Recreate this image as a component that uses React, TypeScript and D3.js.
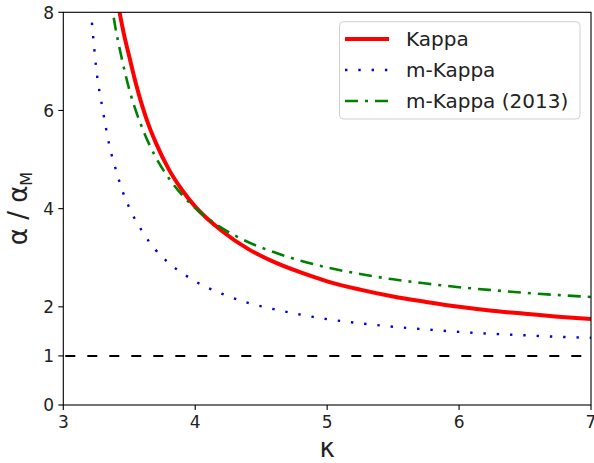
import React from "react";
import * as d3 from "d3";

// Kappa (solid red)
const kappaK = [3.40, 3.427, 3.46, 3.5, 3.55, 3.6, 3.65, 3.7, 3.8, 3.9, 4.0, 4.2, 4.4, 4.6, 4.8, 5.0, 5.25, 5.5, 5.75, 6.0, 6.25, 6.5, 6.75, 7.0];
const kappaV = [8.5, 8.0, 7.55, 7.1, 6.55, 6.08, 5.68, 5.35, 4.8, 4.38, 4.04, 3.55, 3.18, 2.91, 2.70, 2.52, 2.35, 2.21, 2.10, 2.0, 1.92, 1.86, 1.80, 1.75];

// m-Kappa (blue dotted)
const mKappaK = [3.19, 3.21, 3.23, 3.25, 3.3, 3.35, 3.4, 3.45, 3.5, 3.6, 3.7, 3.8, 3.9, 4.0, 4.2, 4.4, 4.6, 4.8, 5.0, 5.25, 5.5, 5.75, 6.0, 6.25, 6.5, 6.75, 7.0];
const mKappaV = [8.6, 8.0, 7.4, 6.85, 6.0, 5.28, 4.78, 4.35, 4.02, 3.53, 3.16, 2.89, 2.69, 2.52, 2.27, 2.08, 1.95, 1.84, 1.75, 1.665, 1.595, 1.54, 1.49, 1.45, 1.42, 1.39, 1.37];

// m-Kappa (2013) (green dash-dot)
const mKappa13K = [3.35, 3.376, 3.45, 3.5, 3.6, 3.7, 3.8, 3.9, 4.0, 4.2, 4.4, 4.6, 4.8, 5.0, 5.25, 5.5, 5.75, 6.0, 6.25, 6.5, 6.75, 7.0];
const mKappa13V = [8.5, 8.0, 6.98, 6.43, 5.63, 5.05, 4.62, 4.28, 4.01, 3.61, 3.32, 3.11, 2.94, 2.80, 2.67, 2.56, 2.475, 2.40, 2.34, 2.285, 2.24, 2.20];

const xTicks = [3, 4, 5, 6, 7];
const yTicks = [0, 1, 2, 4, 6, 8];
const refLevel = [1];
const legendLabels = ["Kappa", "m-Kappa", "m-Kappa (2013)"];

const W = 594;
const H = 463;
const FONT = "DejaVu Sans";

export default function App() {
  const x = d3.scaleLinear().domain([3, 7]).range([63.3, 591]);
  const y = d3.scaleLinear().domain([0, 8]).range([405, 12.3]);

  const line = d3
    .line<[number, number]>()
    .x((d) => x(d[0]))
    .y((d) => y(d[1]))
    .curve(d3.curveMonotoneX);

  const toPts = (ks: number[], vs: number[]) => ks.map((k, i) => [k, vs[i]] as [number, number]);

  const series = [
    { pts: toPts(kappaK, kappaV), color: "#ff0000", width: 4, dash: undefined as string | undefined, cap: "butt" },
    { pts: toPts(mKappaK, mKappaV), color: "#0000dd", width: 2.4, dash: "2.4 10.9", cap: "butt" },
    { pts: toPts(mKappa13K, mKappa13V), color: "#008000", width: 2.6, dash: "13 7 3 7", cap: "butt" },
  ];

  const [x0, x1] = x.range();
  const [yb, yt] = y.range();

  const legendRows = [39, 70, 101];

  return (
    <svg width={W} height={H} style={{ position: "absolute", left: 0, top: 0, background: "#fff" }} fontFamily={FONT}>
      <defs>
        <clipPath id="plotclip">
          <rect x={x0} y={yt} width={x1 - x0} height={yb - yt} />
        </clipPath>
      </defs>
      <rect x={0} y={0} width={W} height={H} fill="#fff" />

      {/* reference line */}
      {refLevel.map((v) => (
        <line key={v} x1={x0} x2={x1} y1={y(v)} y2={y(v)} stroke="#000" strokeWidth={2} strokeDasharray="10 12" strokeDashoffset={-2} />
      ))}

      <g clipPath="url(#plotclip)">
        {series.map((s, i) => (
          <path
            key={i}
            d={line(s.pts) || ""}
            fill="none"
            stroke={s.color}
            strokeWidth={s.width}
            strokeDasharray={s.dash}
            strokeLinecap={s.cap as any}
          />
        ))}
      </g>

      {/* frame */}
      <rect x={x0} y={yt} width={x1 - x0} height={yb - yt} fill="none" stroke="#000" strokeWidth={1.1} />

      {/* x ticks */}
      {xTicks.map((t) => (
        <g key={t}>
          <line x1={x(t)} x2={x(t)} y1={yb} y2={yb + 5} stroke="#000" strokeWidth={1.1} />
          <text x={x(t)} y={427.5} textAnchor="middle" fontSize={17} fill="#222">
            {t}
          </text>
        </g>
      ))}

      {/* y ticks */}
      {yTicks.map((t) => (
        <g key={t}>
          <line x1={x0 - 5} x2={x0} y1={y(t)} y2={y(t)} stroke="#000" strokeWidth={1.1} />
          <text x={54} y={y(t) + 6.3} textAnchor="end" fontSize={17} fill="#222">
            {t}
          </text>
        </g>
      ))}

      {/* axis labels */}
      <text x={(x0 + x1) / 2} y={456.5} textAnchor="middle" fontSize={26} fill="#222">
        κ
      </text>
      <text transform={`translate(27,208.5) rotate(-90)`} textAnchor="middle" fontSize={26} fill="#222">
        α / α
        <tspan fontSize={16} dy={5}>
          M
        </tspan>
      </text>

      {/* legend */}
      <rect x={339.5} y={21.7} width={240.5} height={97.3} rx={4} fill="#fff" fillOpacity={0.8} stroke="#d0d0d0" strokeWidth={1} />
      {series.map((s, i) => (
        <g key={i}>
          <line
            x1={345}
            x2={389}
            y1={legendRows[i]}
            y2={legendRows[i]}
            stroke={s.color}
            strokeWidth={s.width}
            strokeDasharray={s.dash}
          />
          <text x={406} y={legendRows[i] + 7} fontSize={20} fill="#222">
            {legendLabels[i]}
          </text>
        </g>
      ))}
    </svg>
  );
}
